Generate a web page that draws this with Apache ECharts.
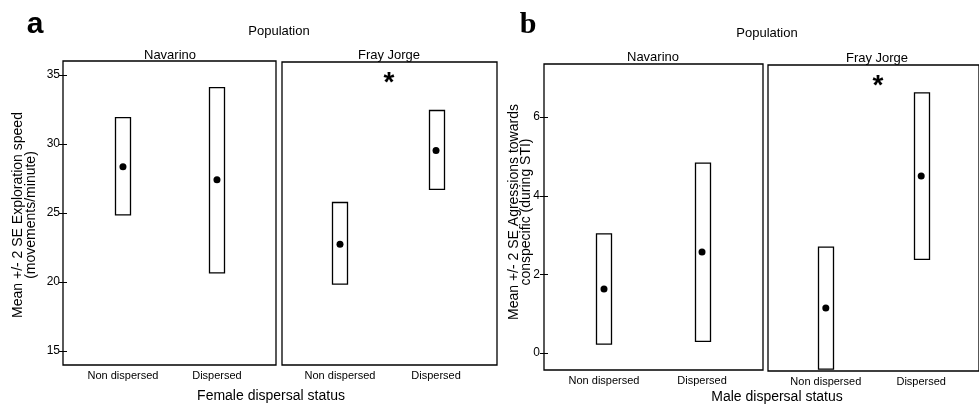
<!DOCTYPE html>
<html>
<head>
<meta charset="utf-8">
<script src="https://cdn.jsdelivr.net/npm/echarts@6/dist/echarts.min.js"></script>
<style>html,body{margin:0;padding:0;background:#fff}#c{width:979px;height:407px}</style>
</head>
<body>
<div id="c"></div>
<script>
// ---- data ----
var categories = ['Non dispersed', 'Dispersed'];
var populations = ['Navarino', 'Fray Jorge'];
// Female exploration speed (panel a)
var femaleMeanNavarino = [28.35, 27.4];
var femaleUpperNavarino = [31.9, 34.07];
var femaleLowerNavarino = [24.87, 20.67];
var femaleMeanFray = [22.77, 29.58];
var femaleUpperFray = [25.8, 32.48];
var femaleLowerFray = [19.87, 26.75];
// Male aggressions (panel b)
var maleMeanNavarino = [1.63, 2.57];
var maleUpperNavarino = [3.03, 4.83];
var maleLowerNavarino = [0.23, 0.3];
var maleMeanFray = [1.17, 4.53];
var maleUpperFray = [2.72, 6.64];
var maleLowerFray = [-0.38, 2.41];
var femaleTicks = [15, 20, 25, 30, 35];
var maleTicks = [0, 2, 4, 6];

var FONT = '"Liberation Sans", Arial, sans-serif';
var chart = echarts.init(document.getElementById('c'), null, {renderer: 'canvas'});

function boxRender(params, api) {
  var x = api.value(0), lo = api.value(1), hi = api.value(2);
  var p1 = api.coord([x, hi]), p2 = api.coord([x, lo]);
  var w = 15;
  return {type: 'rect', shape: {x: Math.round(p1[0] - w / 2) + 0.5, y: p1[1], width: w, height: p2[1] - p1[1]},
    style: {fill: '#fff', stroke: '#000', lineWidth: 1.3}};
}
function boxData(lo, hi) { return categories.map(function (c, i) { return [i + 1, lo[i], hi[i]]; }); }
function meanData(m) { return categories.map(function (c, i) { return [i + 1, m[i]]; }); }

var grids = [
  {left: 63, top: 61, width: 213, height: 304},
  {left: 282, top: 62, width: 215, height: 303},
  {left: 544, top: 64, width: 219, height: 306},
  {left: 768, top: 65, width: 219, height: 306}
].map(function (g) { return Object.assign({show: true, borderColor: '#000', borderWidth: 1.3, backgroundColor: 'transparent'}, g); });

var xRanges = [[0.362, 2.628], [0.396, 2.635], [0.388, 2.622], [0.394, 2.606]];
var xAxes = xRanges.map(function (r, i) {
  return {type: 'value', gridIndex: i, min: r[0], max: r[1], splitLine: {show: false},
    axisLine: {show: false}, axisTick: {show: false},
    axisLabel: {customValues: [1, 2], formatter: function (v) { return categories[Math.round(v) - 1]; },
      fontFamily: FONT, fontSize: 11, color: '#000', margin: 5}};
});

function yAx(i, min, max, ticks, showLabels, inside, margin) {
  return {type: 'value', gridIndex: i, position: 'left', min: min, max: max, splitLine: {show: false},
    axisLine: {show: false},
    axisTick: {show: showLabels, inside: inside, length: 4, customValues: ticks, lineStyle: {color: '#000', width: 1}},
    axisLabel: {show: showLabels && !inside, customValues: ticks, fontFamily: FONT, fontSize: 12, color: '#000', margin: margin || 3}};
}
var yAxes = [
  yAx(0, 14, 36, femaleTicks, true, false, 3),
  yAx(1, 14, 36, femaleTicks, false, false),
  yAx(2, -0.43, 7.35, maleTicks, true, false, 4),
  yAx(3, -0.43, 7.35, maleTicks, false, false),
  yAx(0, 14, 36, femaleTicks, true, true),
  yAx(2, -0.43, 7.35, maleTicks, true, true)
];

var panels = [
  [femaleLowerNavarino, femaleUpperNavarino, femaleMeanNavarino],
  [femaleLowerFray, femaleUpperFray, femaleMeanFray],
  [maleLowerNavarino, maleUpperNavarino, maleMeanNavarino],
  [maleLowerFray, maleUpperFray, maleMeanFray]
];
var series = [];
panels.forEach(function (p, i) {
  series.push({type: 'custom', xAxisIndex: i, yAxisIndex: i, renderItem: boxRender, data: boxData(p[0], p[1]), clip: false, silent: true});
  series.push({type: 'scatter', xAxisIndex: i, yAxisIndex: i, data: meanData(p[2]), symbol: 'circle', symbolSize: 7,
    itemStyle: {color: '#000', opacity: 1}, silent: true, z: 5});
});

function txt(s, x, y, size, extra) {
  return {type: 'text', x: x, y: y, style: Object.assign({text: s, fontFamily: FONT, fontSize: size, fill: '#000', align: 'center', verticalAlign: 'middle'}, extra || {})};
}
function vtxt(s, x, y, size) {
  var t = txt(s, x, y, size);
  t.rotation = Math.PI / 2;
  return t;
}

var graphic = [
  txt('a', 35, 25, 30, {fontWeight: 'bold'}),
  txt('b', 528, 25, 30, {fontWeight: 'bold', fontFamily: '"Liberation Serif", serif'}),
  txt('Population', 279, 31, 13),
  txt('Population', 767, 33, 13),
  txt(populations[0], 170, 55, 13),
  txt(populations[1], 389, 55, 13),
  txt(populations[0], 653, 57, 13),
  txt(populations[1], 877, 58, 13),
  txt('*', 389, 83, 28, {fontWeight: 'bold'}),
  txt('*', 878, 86, 28, {fontWeight: 'bold'}),
  txt('Female dispersal status', 271, 396, 14),
  txt('Male dispersal status', 777, 397, 14),
  vtxt('Mean +/- 2 SE Exploration speed', 18, 215, 14),
  vtxt('(movements/minute)', 31, 215, 14),
  vtxt('Mean +/- 2 SE Agressions towards', 514, 212, 14),
  vtxt('conspecific (during STI)', 526, 212, 14)
];

chart.setOption({
  animation: false,
  backgroundColor: '#fff',
  grid: grids,
  xAxis: xAxes,
  yAxis: yAxes,
  series: series,
  graphic: graphic
});
</script>
</body>
</html>
